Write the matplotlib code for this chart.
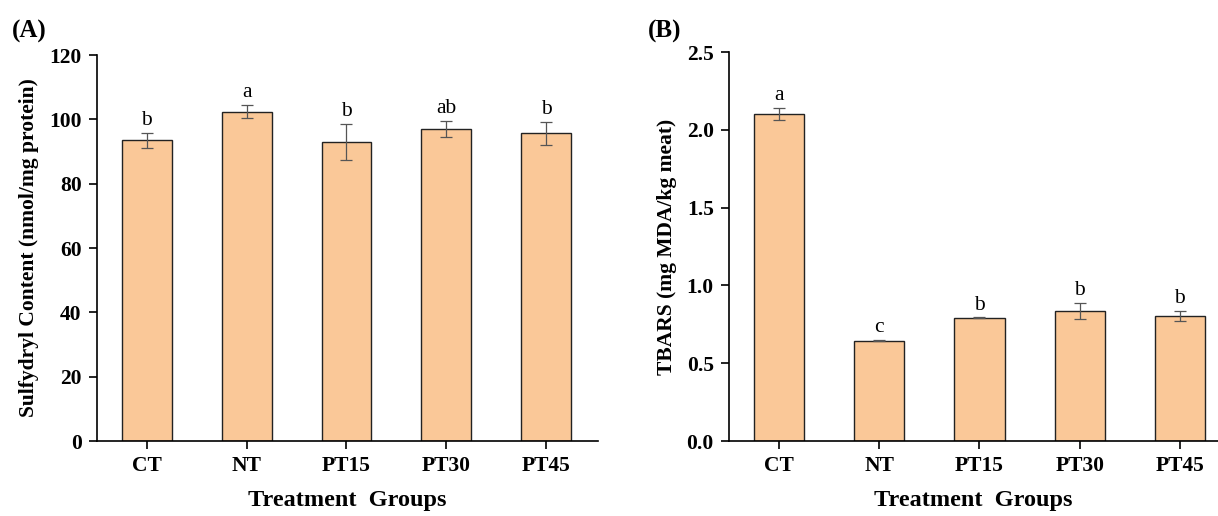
import matplotlib.pyplot as plt
import numpy as np

groups = ["CT", "NT", "PT15", "PT30", "PT45"]

# (A) sulfydryl content
sh_mean = [93.5, 102.4, 93.0, 97.0, 95.6]
sh_err = [2.4, 2.0, 5.5, 2.4, 3.6]
sh_letters = ["b", "a", "b", "ab", "b"]

# (B) TBARS
tb_mean = [2.10, 0.645, 0.791, 0.836, 0.804]
tb_err = [0.04, 0.005, 0.003, 0.05, 0.03]
tb_letters = ["a", "c", "b", "b", "b"]

plt.rcParams['font.family'] = ['Liberation Serif', 'DejaVu Serif']

bar_color = '#FAC898'
x = np.arange(len(groups))

fig = plt.figure(figsize=(12.18, 5.16), dpi=100)
ax1 = fig.add_axes([0.0796, 0.1453, 0.4114, 0.7481])
ax2 = fig.add_axes([0.5985, 0.1453, 0.4015, 0.7539])


def draw(ax, mean, err, letters, ylim, yticks, fmt, ylabel, xmax):
    ax.bar(x, mean, width=0.5, color=bar_color, edgecolor='#222222', linewidth=1.0, zorder=2)
    ax.errorbar(x, mean, yerr=err, fmt='none', ecolor='#555555', elinewidth=0.9,
                capsize=4, capthick=0.9, zorder=3)
    for xi, m, e, l in zip(x, mean, err, letters):
        ax.annotate(l, (xi, m + e), xytext=(0, 2), textcoords='offset points',
                    ha='center', va='bottom', fontsize=15.5)
    ax.set_xlim(-0.5, xmax)
    ax.set_ylim(*ylim)
    ax.set_yticks(yticks)
    ax.set_yticklabels([fmt % v for v in yticks], fontsize=15.5, fontweight='bold')
    ax.set_xticks(x)
    ax.set_xticklabels(groups, fontsize=15.5, fontweight='bold')
    ax.tick_params(axis='both', direction='out', length=6, width=1.2, pad=5)
    for s in ['top', 'right']:
        ax.spines[s].set_visible(False)
    for s in ['left', 'bottom']:
        ax.spines[s].set_linewidth(1.2)
    ax.set_ylabel(ylabel, fontsize=15.5, fontweight='bold', labelpad=7)
    ax.set_xlabel("Treatment  Groups", fontsize=17.5, fontweight='bold', labelpad=10)


draw(ax1, sh_mean, sh_err, sh_letters, (0, 120), np.arange(0, 121, 20), '%d',
     "Sulfydryl Content (nmol/mg protein)", 4.52)
draw(ax2, tb_mean, tb_err, tb_letters, (0, 2.5), np.arange(0, 2.51, 0.5), '%.1f',
     "TBARS (mg MDA/kg meat)", 4.38)

fig.text(0.010, 0.94, "(A)", fontsize=18, fontweight='bold', va='center')
fig.text(0.532, 0.94, "(B)", fontsize=18, fontweight='bold', va='center')

fig.savefig("out.png", dpi=100)
